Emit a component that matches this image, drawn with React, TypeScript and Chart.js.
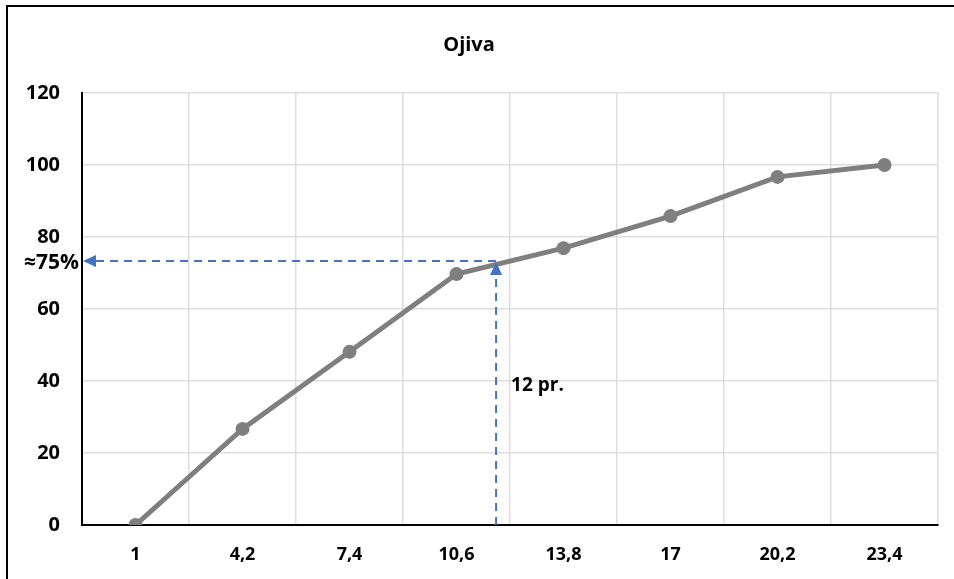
import React, { useEffect, useRef } from "react";
import { Chart, registerables } from "chart.js";

Chart.register(...registerables);

const categories = ["1", "4,2", "7,4", "10,6", "13,8", "17", "20,2", "23,4"];
const cumulative = [0, 26.7, 48.1, 69.7, 76.9, 85.8, 96.7, 100];
const yTicks = [0, 20, 40, 60, 80, 100, 120];
const chartTitle = "Ojiva";
// annotation (data space): x as fractional category index, y as value
const markerXIndex = 3.37;
const markerY = 73.3;
const markerYLabel = "≈75%";
const markerXLabel = "12 pr.";
const markerXLabelY = 38.6;

const FONT = "'Open Sans', 'Liberation Sans', sans-serif";
const BLUE = "#4472C4";

const arrowPlugin = {
  id: "ojivaArrows",
  afterDatasetsDraw(chart: any) {
    const { ctx, chartArea, scales } = chart;
    const x = scales.x.getPixelForValue(markerXIndex);
    const y = scales.y.getPixelForValue(markerY);
    const left = chartArea.left + 1;
    const bottom = chartArea.bottom;
    ctx.save();
    ctx.strokeStyle = BLUE;
    ctx.fillStyle = BLUE;
    ctx.lineWidth = 2;
    ctx.setLineDash([8, 6]);
    // horizontal
    ctx.beginPath();
    ctx.moveTo(x, y);
    ctx.lineTo(left + 12, y);
    ctx.stroke();
    // vertical
    ctx.beginPath();
    ctx.moveTo(x, bottom);
    ctx.lineTo(x, y + 12);
    ctx.stroke();
    ctx.setLineDash([]);
    // arrowheads
    ctx.beginPath();
    ctx.moveTo(left, y);
    ctx.lineTo(left + 13, y - 6);
    ctx.lineTo(left + 13, y + 6);
    ctx.closePath();
    ctx.fill();
    ctx.beginPath();
    ctx.moveTo(x, y + 1);
    ctx.lineTo(x - 6, y + 14);
    ctx.lineTo(x + 6, y + 14);
    ctx.closePath();
    ctx.fill();
    // labels
    ctx.fillStyle = "#000";
    ctx.font = `bold 21px ${FONT}`;
    ctx.textAlign = "right";
    ctx.textBaseline = "middle";
    ctx.fillText(markerYLabel, chartArea.left - 3, y + 2);
    ctx.font = `bold 19px ${FONT}`;
    ctx.textAlign = "left";
    ctx.fillText(markerXLabel, x + 15, scales.y.getPixelForValue(markerXLabelY));
    ctx.restore();
  },
};

export default function App() {
  const canvasRef = useRef<HTMLCanvasElement | null>(null);

  useEffect(() => {
    if (!canvasRef.current) return;
    const chart = new Chart(canvasRef.current, {
      type: "line",
      data: {
        labels: categories,
        datasets: [
          {
            data: cumulative,
            borderColor: "#7F7F7F",
            backgroundColor: "#7F7F7F",
            borderWidth: 5,
            pointRadius: 7,
            pointBackgroundColor: "#7F7F7F",
            pointBorderColor: "#7F7F7F",
            pointBorderWidth: 0,
            tension: 0,
          },
        ],
      },
      options: {
        animation: false,
        responsive: true,
        maintainAspectRatio: false,
        layout: { padding: { left: 0, right: 16, top: 0, bottom: 0 } },
        plugins: {
          legend: { display: false },
          tooltip: { enabled: false },
          title: {
            display: true,
            text: chartTitle,
            color: "#000",
            font: { family: FONT, size: 20, weight: "bold" },
            padding: { top: 33, bottom: 36 },
          },
        },
        scales: {
          x: {
            offset: true,
            grid: {
              offset: true,
              drawTicks: false,
              color: (c: any) => (c.index === categories.length ? "rgba(0,0,0,0)" : "#DDDDDD"),
              lineWidth: 1.5,
            },
            border: { color: "#000", width: 2 },
            ticks: {
              color: "#000",
              font: { family: FONT, size: 18, weight: "bold" },
              padding: 19,
              maxRotation: 0,
            },
            afterFit: (s: any) => {
              s.height = 54;
            },
          },
          y: {
            min: 0,
            max: 120,
            afterBuildTicks: (s: any) => {
              s.ticks = yTicks.map((v) => ({ value: v }));
            },
            grid: { drawTicks: false, color: "#DDDDDD", lineWidth: 1.5 },
            border: { color: "#000", width: 2 },
            ticks: {
              color: "#000",
              font: { family: FONT, size: 20, weight: "bold" },
              padding: 22,
            },
            afterFit: (s: any) => {
              s.width = 82;
            },
          },
        },
      },
      plugins: [arrowPlugin],
    });
    return () => chart.destroy();
  }, []);

  return (
    <div
      style={{
        position: "absolute",
        left: 0,
        top: 0,
        width: 954,
        height: 579,
        overflow: "hidden",
        background: "#fff",
      }}
    >
      <div
        style={{
          position: "absolute",
          left: 6,
          top: 5,
          width: 980,
          height: 600,
          border: "2px solid #000",
        }}
      />
      <div style={{ position: "absolute", left: 0, top: 0, width: 954, height: 579 }}>
        <canvas ref={canvasRef} />
      </div>
    </div>
  );
}
